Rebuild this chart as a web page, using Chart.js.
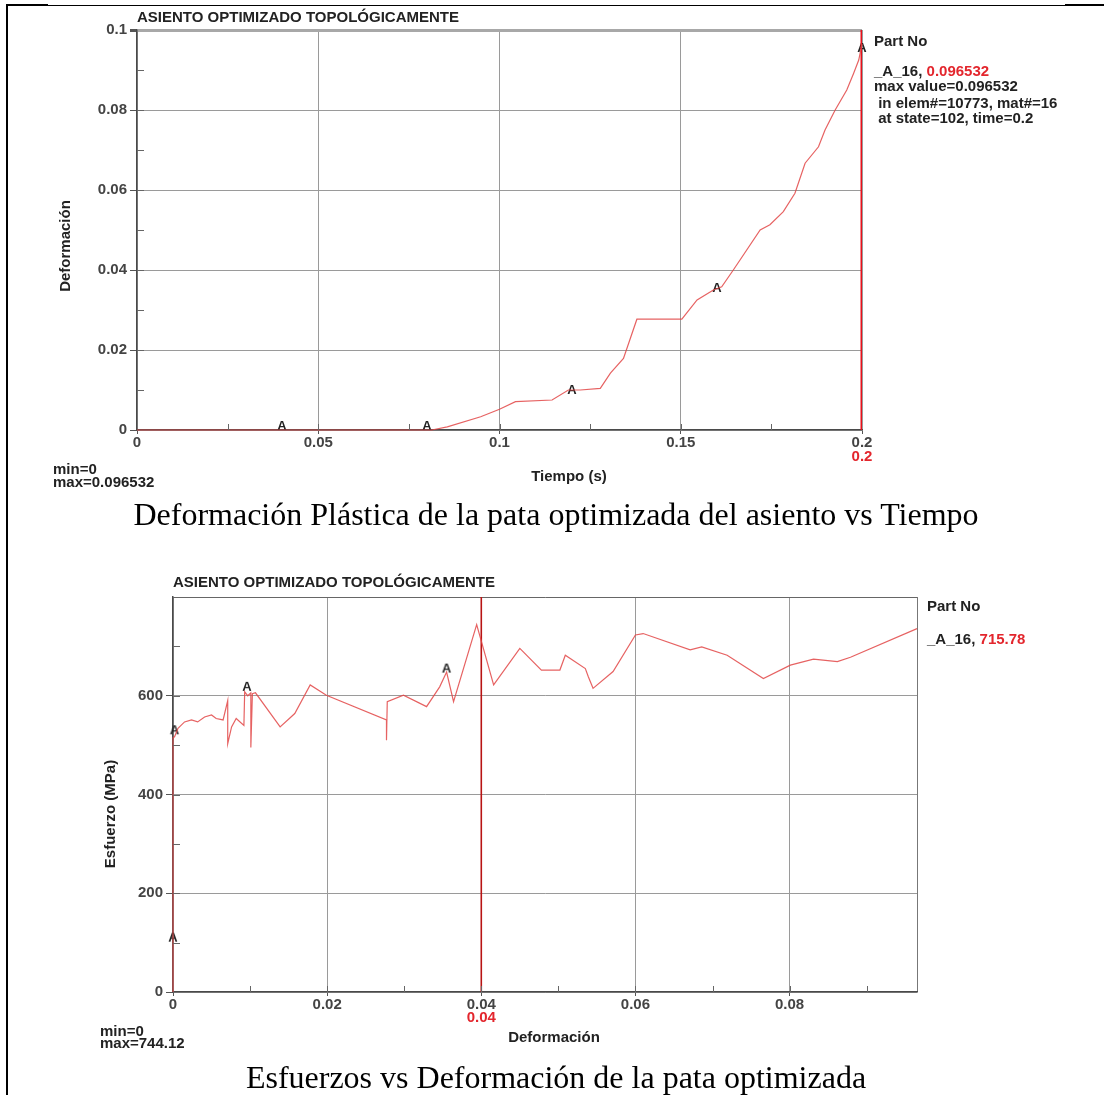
<!DOCTYPE html>
<html lang="es">
<head>
<meta charset="utf-8">
<title>Asiento optimizado topológicamente</title>
<script src="https://cdn.jsdelivr.net/npm/chart.js@4.4.1/dist/chart.umd.min.js"></script>
<style>
  body { margin: 0; background: #fff; width: 1104px; height: 1095px; position: relative; overflow: hidden; }
  canvas { position: absolute; left: 0; }
  #graficaTiempo { top: 0; }
  #graficaEsfuerzo { top: 540px; }
  .pie { position: absolute; left: 0; width: 1112px; text-align: center; white-space: nowrap;
         font-family: 'Liberation Serif', 'Times New Roman', serif; font-size: 32px; line-height: 32px; color: #000; }
  .marco { position: absolute; background: #000; }
</style>
</head>
<body>
<div class="marco" style="left:6px; top:4px; width:2px; height:1091px;"></div>
<div class="marco" style="left:6px; top:5px; width:1098px; height:1px;"></div>
<div class="marco" style="left:6px; top:4px; width:42px; height:2px;"></div>
<div class="marco" style="left:1065px; top:4px; width:39px; height:2px;"></div>

<canvas id="graficaTiempo" width="1104" height="500"></canvas>
<div class="pie" style="top:498px;">Deformación Plástica de la pata optimizada del asiento vs Tiempo</div>
<canvas id="graficaEsfuerzo" width="1104" height="515"></canvas>
<div class="pie" style="top:1061px;">Esfuerzos vs Deformación de la pata optimizada</div>

<script>
/* datos grafica 1: deformacion plastica vs tiempo */
const tiempo = [0, 0.04, 0.08, 0.0813, 0.0856, 0.0948, 0.1, 0.1044, 0.1145, 0.119, 0.1223, 0.1278, 0.1306,
  0.1342, 0.1379, 0.1503, 0.1545, 0.159, 0.1613, 0.1645, 0.1719, 0.1746, 0.1783, 0.1815, 0.1843, 0.188,
  0.1898, 0.1926, 0.1958, 0.1977, 0.1991, 0.2];
const deformacion = [0, 0, 0, 0, 0.0008, 0.0033, 0.0052, 0.0071, 0.0075, 0.01, 0.01, 0.0104, 0.0142,
  0.0179, 0.0277, 0.0277, 0.0325, 0.035, 0.0358, 0.04, 0.05, 0.0513, 0.0546, 0.0592, 0.0667, 0.0708,
  0.075, 0.08, 0.085, 0.0892, 0.0925, 0.096532];
const marcasTiempo = [0.04, 0.08, 0.12, 0.16, 0.2];
const marcasDeformacion = [0.001, 0.001, 0.01, 0.0355, 0.0955];
const etiquetasTiempo = [0, 0.05, 0.1, 0.15, 0.2];
const etiquetasDeformacion = [0, 0.02, 0.04, 0.06, 0.08, 0.1];
const cursorTiempo = 0.2;

/* datos grafica 2: esfuerzo vs deformacion */
const deformacion2 = [0, 0, 0, 0.0002, 0.00065, 0.0015, 0.0024, 0.0032, 0.0041, 0.005, 0.0056, 0.0065,
  0.0071, 0.0071, 0.0076, 0.0082, 0.0092, 0.0093, 0.0097, 0.0101, 0.0101, 0.0103, 0.0107, 0.0139, 0.0158,
  0.0178, 0.0199, 0.0277, 0.0277, 0.0278, 0.0299, 0.0329, 0.0346, 0.0355, 0.0364, 0.0394, 0.0416, 0.045,
  0.0478, 0.0502, 0.0509, 0.0535, 0.0539, 0.0545, 0.0571, 0.06, 0.061, 0.0671, 0.0686, 0.0719, 0.0766,
  0.0801, 0.0831, 0.0862, 0.0879, 0.096532];
const esfuerzo = [0, 110, 515, 517, 534, 547, 551, 547, 557, 561, 554, 551,
  590, 503, 537, 554, 540, 608, 600, 606, 495, 604, 606, 537, 564,
  622, 601, 551, 510, 588, 601, 578, 618, 648, 588, 744, 622, 696,
  652, 652, 682, 655, 638, 615, 649, 723, 726, 693, 699, 682, 635,
  662, 674, 669, 678, 736];
const marcasDeformacion2 = [0, 0.0002, 0.0096, 0.0355];
const marcasEsfuerzo = [110, 530, 618, 655];
const etiquetasDeformacion2 = [0, 0.02, 0.04, 0.06, 0.08];
const etiquetasEsfuerzo = [0, 200, 400, 600];
const cursorDeformacion = 0.04;

const fuente = "'Liberation Sans', Arial, sans-serif";
const rojo = '#e3262d';

function enLista(lista, v) {
  return lista.some(a => Math.abs(a - v) < 1e-9);
}
function formato(v) {
  return String(parseFloat(Number(v).toFixed(5)));
}

// la "A" que pone LS-PrePost sobre la curva
const letraA = document.createElement('canvas');
letraA.width = 12; letraA.height = 14;
(function () {
  const c = letraA.getContext('2d');
  c.font = 'bold 13px ' + fuente;
  c.fillStyle = '#222';
  c.textAlign = 'center';
  c.textBaseline = 'middle';
  c.fillText('A', 6, 7.5);
})();

/* marcas menores hacia dentro + textos sueltos */
const anotaciones = {
  id: 'anotaciones',
  afterDraw(chart, args, opts) {
    const ctx = chart.ctx;
    const sx = chart.scales.x, sy = chart.scales.y;
    const area = chart.chartArea;
    ctx.save();
    ctx.strokeStyle = '#666';
    ctx.lineWidth = 1;
    ctx.beginPath();
    for (let i = 1; i * opts.menorX < sx.max - 1e-9; i++) {
      const px = Math.round(sx.getPixelForValue(i * opts.menorX)) + 0.5;
      ctx.moveTo(px, area.bottom);
      ctx.lineTo(px, area.bottom - 6);
    }
    for (let i = 1; i * opts.menorY < sy.max - 1e-9; i++) {
      const py = Math.round(sy.getPixelForValue(i * opts.menorY)) + 0.5;
      ctx.moveTo(area.left, py);
      ctx.lineTo(area.left + 7, py);
    }
    ctx.stroke();

    ctx.textBaseline = 'middle';
    opts.textos.forEach(t => {
      ctx.save();
      ctx.translate(t.x, t.y);
      if (t.rot) ctx.rotate(-Math.PI / 2);
      ctx.font = 'bold 15px ' + fuente;
      ctx.textAlign = t.align || 'left';
      let x0 = 0;
      t.partes.forEach(p => {
        ctx.fillStyle = p[1];
        ctx.fillText(p[0], x0, 0);
        x0 += ctx.measureText(p[0]).width;
      });
      ctx.restore();
    });

    // valor del cursor en rojo bajo el eje
    ctx.fillStyle = rojo;
    ctx.textAlign = 'center';
    ctx.font = 'bold 15px ' + fuente;
    ctx.fillText(formato(opts.cursor), sx.getPixelForValue(opts.cursor), opts.cursorY);
    ctx.restore();
  }
};

function escalas(cfg) {
  return {
    x: {
      type: 'linear', min: 0, max: cfg.maxX,
      afterFit: s => { s.height = cfg.altoX; },
      ticks: {
        stepSize: cfg.pasoX, autoSkip: false, maxRotation: 0, padding: 0,
        color: '#444', font: { family: fuente, size: 15, weight: 'bold' },
        callback: v => enLista(cfg.etiquetasX, v) ? formato(v) : ''
      },
      grid: {
        tickLength: 4,
        color: c => c.tick && Math.abs(c.tick.value - cfg.maxX) < 1e-9 ? cfg.bordeDer
          : (c.tick && enLista(cfg.etiquetasX, c.tick.value) ? '#9a9a9a' : 'transparent'),
        tickColor: c => c.tick && enLista(cfg.etiquetasX, c.tick.value) ? '#555' : 'transparent'
      },
      border: { color: '#4a4a4a', width: 1.5 }
    },
    y: {
      type: 'linear', min: 0, max: cfg.maxY,
      afterFit: s => { s.width = cfg.anchoY; },
      ticks: {
        stepSize: cfg.pasoY, autoSkip: false, padding: 3,
        color: '#444', font: { family: fuente, size: 15, weight: 'bold' },
        callback: v => enLista(cfg.etiquetasY, v) ? formato(v) : ''
      },
      grid: {
        tickLength: 7,
        color: c => c.tick && Math.abs(c.tick.value - cfg.maxY) < 1e-9 ? cfg.bordeSup
          : (c.tick && enLista(cfg.etiquetasY, c.tick.value) ? '#9a9a9a' : 'transparent'),
        lineWidth: c => c.tick && Math.abs(c.tick.value - cfg.maxY) < 1e-9 ? cfg.anchoSup : 1,
        tickColor: c => c.tick && enLista(cfg.etiquetasY, c.tick.value) ? '#555' : 'transparent'
      },
      border: { color: '#4a4a4a', width: 1.5 }
    }
  };
}

/* grafica 1 */
new Chart(document.getElementById('graficaTiempo'), {
  type: 'line',
  data: {
    datasets: [
      {
        data: tiempo.map((t, i) => ({ x: t, y: deformacion[i] })),
        borderColor: 'rgba(226,70,70,0.85)', borderWidth: 1.2,
        pointRadius: 0, tension: 0, clip: false
      },
      {
        data: [{ x: cursorTiempo, y: 0 }, { x: cursorTiempo, y: 0.1 }],
        borderColor: '#e8101a', borderWidth: 3, pointRadius: 0
      },
      {
        data: marcasTiempo.map((t, i) => ({ x: t, y: marcasDeformacion[i] })),
        showLine: false, pointStyle: letraA, pointRadius: 6, clip: false
      }
    ]
  },
  options: {
    responsive: false, animation: false, devicePixelRatio: 1,
    layout: { padding: { left: 0, right: 242, top: 30, bottom: 0 } },
    plugins: {
      legend: { display: false }, tooltip: { enabled: false },
      anotaciones: {
        menorX: 0.025, menorY: 0.01, cursor: cursorTiempo, cursorY: 457,
        textos: [
          { x: 137, y: 18, partes: [['ASIENTO OPTIMIZADO TOPOLÓGICAMENTE', '#222']] },
          { x: 874, y: 42, partes: [['Part No', '#222']] },
          { x: 874, y: 72, partes: [['_A_16, ', '#222'], ['0.096532', rojo]] },
          { x: 874, y: 87, partes: [['max value=0.096532', '#222']] },
          { x: 874, y: 104, partes: [[' in elem#=10773, mat#=16', '#222']] },
          { x: 874, y: 119, partes: [[' at state=102, time=0.2', '#222']] },
          { x: 53, y: 470, partes: [['min=0', '#222']] },
          { x: 53, y: 483, partes: [['max=0.096532', '#222']] },
          { x: 569, y: 477, align: 'center', partes: [['Tiempo (s)', '#222']] },
          { x: 66, y: 246, rot: true, align: 'center', partes: [['Deformación', '#222']] }
        ]
      }
    },
    scales: escalas({
      maxX: 0.2, pasoX: 0.025, etiquetasX: etiquetasTiempo, altoX: 70, bordeDer: '#9a9a9a',
      maxY: 0.1, pasoY: 0.01, etiquetasY: etiquetasDeformacion, anchoY: 137,
      bordeSup: '#a8a8a8', anchoSup: 3
    })
  },
  plugins: [anotaciones]
});

/* grafica 2 */
new Chart(document.getElementById('graficaEsfuerzo'), {
  type: 'line',
  data: {
    datasets: [
      {
        data: deformacion2.map((d, i) => ({ x: d, y: esfuerzo[i] })),
        borderColor: 'rgba(226,70,70,0.85)', borderWidth: 1.2,
        pointRadius: 0, tension: 0, clip: false
      },
      {
        data: [{ x: cursorDeformacion, y: 0 }, { x: cursorDeformacion, y: 800 }],
        borderColor: '#b81414', borderWidth: 1.6, pointRadius: 0
      },
      {
        data: marcasDeformacion2.map((d, i) => ({ x: d, y: marcasEsfuerzo[i] })),
        showLine: false, pointStyle: letraA, pointRadius: 6, clip: false
      }
    ]
  },
  options: {
    responsive: false, animation: false, devicePixelRatio: 1,
    layout: { padding: { left: 0, right: 187, top: 57, bottom: 0 } },
    plugins: {
      legend: { display: false }, tooltip: { enabled: false },
      anotaciones: {
        menorX: 0.01, menorY: 100, cursor: cursorDeformacion, cursorY: 478,
        textos: [
          { x: 173, y: 43, partes: [['ASIENTO OPTIMIZADO TOPOLÓGICAMENTE', '#222']] },
          { x: 927, y: 67, partes: [['Part No', '#222']] },
          { x: 927, y: 100, partes: [['_A_16, ', '#222'], ['715.78', rojo]] },
          { x: 100, y: 492, partes: [['min=0', '#222']] },
          { x: 100, y: 504, partes: [['max=744.12', '#222']] },
          { x: 554, y: 498, align: 'center', partes: [['Deformación', '#222']] },
          { x: 111, y: 274, rot: true, align: 'center', partes: [['Esfuerzo (MPa)', '#222']] }
        ]
      }
    },
    scales: escalas({
      maxX: 0.096532, pasoX: 0.01, etiquetasX: etiquetasDeformacion2, altoX: 63, bordeDer: '#777',
      maxY: 800, pasoY: 100, etiquetasY: etiquetasEsfuerzo, anchoY: 173,
      bordeSup: '#666', anchoSup: 1
    })
  },
  plugins: [anotaciones]
});
</script>
</body>
</html>
